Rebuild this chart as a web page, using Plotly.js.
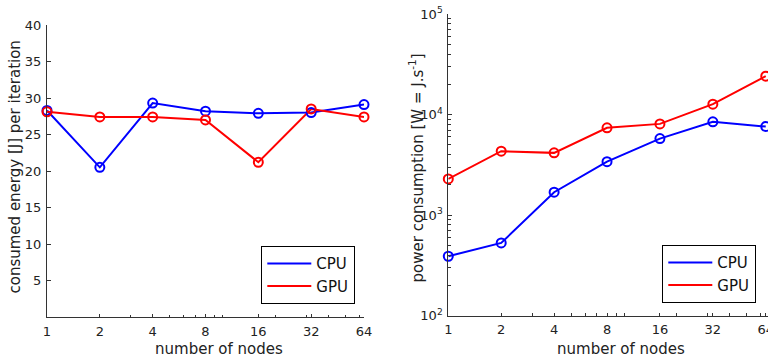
<!DOCTYPE html>
<html><head><meta charset="utf-8">
<script src="https://cdn.plot.ly/plotly-3.0.1.min.js"></script>
<style>html,body{margin:0;padding:0;background:#fff;}</style>
</head><body><div id="chart" style="width:768px;height:358px;"></div>
<script>
// ---- data ----
const nodes = [1, 2, 4, 8, 16, 32, 64];
const energyCPU = [28.3, 20.5, 29.3, 28.2, 27.9, 28.0, 29.1];
const energyGPU = [28.1, 27.4, 27.4, 27.0, 21.2, 28.5, 27.4];
const powerCPU = [390, 529, 1690, 3400, 5770, 8460, 7600];
const powerGPU = [2290, 4320, 4160, 7380, 8080, 12700, 24100];
const seriesNames = ['CPU', 'GPU'];
const xTickVals = [1, 2, 4, 8, 16, 32, 64];
const xTickText = ['1', '2', '4', '8', '16', '32', '64'];
const xMinorVals = [3, 5, 6, 7, 9, 10, 20, 30, 40, 50, 60];
const energyTickVals = [5, 10, 15, 20, 25, 30, 35, 40];
const powerTickVals = [100, 1000, 10000, 100000];
const powerTickText = ['10<sup>2</sup>', '10<sup>3</sup>', '10<sup>4</sup>', '10<sup>5</sup>'];
const powerMinorVals = [200,300,400,500,600,700,800,900,2000,3000,4000,5000,6000,7000,8000,9000,20000,30000,40000,50000,60000,70000,80000,90000];
const xTitle = 'number of nodes';
const energyTitle = 'consumed energy [J] per iteration';
const powerTitle = 'power consumption [W = J.s<sup>-1</sup>]';

const BLUE = '#0000ff', RED = '#ff0000';
const FONT = 'DejaVu Sans, sans-serif';
const AX = '#333333';

function lineTrace(y, name, color, xa, ya, leg) {
  return {x: nodes, y: y, name: name, mode: 'lines', type: 'scatter',
    line: {color: color, width: 2}, xaxis: xa, yaxis: ya, legend: leg, hoverinfo: 'skip'};
}
function markerTrace(y, color, xa, ya) {
  return {x: nodes, y: y, mode: 'markers', type: 'scatter', showlegend: false,
    marker: {symbol: 'circle-open', size: 9, color: color, line: {width: 2, color: color}},
    xaxis: xa, yaxis: ya, cliponaxis: false, hoverinfo: 'skip'};
}

const data = [
  lineTrace(energyCPU, seriesNames[0], BLUE, 'x', 'y', 'legend'),
  lineTrace(energyGPU, seriesNames[1], RED, 'x', 'y', 'legend'),
  markerTrace(energyCPU, BLUE, 'x', 'y'),
  markerTrace(energyGPU, RED, 'x', 'y'),
  lineTrace(powerCPU, seriesNames[0], BLUE, 'x2', 'y2', 'legend2'),
  lineTrace(powerGPU, seriesNames[1], RED, 'x2', 'y2', 'legend2'),
  markerTrace(powerCPU, BLUE, 'x2', 'y2'),
  markerTrace(powerGPU, RED, 'x2', 'y2')
];

const W = 768, H = 358;
const px = v => v / W, py = v => 1 - v / H;

const xCommon = {
  type: 'log', tickmode: 'array', tickvals: xTickVals, ticktext: xTickText,
  ticks: 'inside', ticklen: 3, tickwidth: 1, tickcolor: AX,
  minor: {tickmode: 'array', tickvals: xMinorVals, ticks: 'inside', ticklen: 2.5, tickwidth: 1, tickcolor: AX, showgrid: false},
  showline: true, linecolor: AX, linewidth: 1, showgrid: false, zeroline: false,
  tickfont: {family: FONT, size: 13, color: '#222'}, ticklabelstandoff: 2,
  ticklabeloverflow: 'allow', fixedrange: true
};

const legendCommon = {xanchor: 'left', yanchor: 'top',
  bgcolor: '#fff', bordercolor: '#000', borderwidth: 1.3, itemwidth: 44,
  font: {family: FONT, size: 15, color: '#111'}, tracegroupgap: 0};

const layout = {
  width: W, height: H,
  margin: {l: 0, r: 0, t: 0, b: 0},
  paper_bgcolor: '#fff', plot_bgcolor: '#fff',
  font: {family: FONT, size: 13, color: '#222'},
  xaxis: Object.assign({}, xCommon, {domain: [px(47), px(364)], range: [0, Math.log10(64)], anchor: 'y'}),
  yaxis: {domain: [1 - 317 / H, 1 - 25 / H], range: [0, 40], anchor: 'x',
    tickmode: 'array', tickvals: energyTickVals,
    ticks: 'inside', ticklen: 4, tickwidth: 1, tickcolor: AX,
    showline: true, linecolor: AX, linewidth: 1, showgrid: false, zeroline: false,
    tickfont: {family: FONT, size: 13, color: '#222'}, ticklabelstandoff: 2, fixedrange: true},
  xaxis2: Object.assign({}, xCommon, {domain: [px(448.3), 1], range: [0, 1.819], anchor: 'y2'}),
  yaxis2: {type: 'log', domain: [1 - 315.7 / H, 1 - 14 / H], range: [2, 5], anchor: 'x2',
    tickmode: 'array', tickvals: powerTickVals, ticktext: powerTickText,
    ticks: 'inside', ticklen: 4, tickwidth: 1, tickcolor: AX,
    minor: {tickmode: 'array', tickvals: powerMinorVals, ticks: 'inside', ticklen: 2.5, tickwidth: 1, tickcolor: AX, showgrid: false},
    showline: true, linecolor: AX, linewidth: 1, showgrid: false, zeroline: false,
    tickfont: {family: FONT, size: 13, color: '#222'}, ticklabelstandoff: 2, fixedrange: true},
  legend: Object.assign({}, legendCommon, {x: px(261), y: py(246)}),
  legend2: Object.assign({}, legendCommon, {x: px(662), y: py(245)}),
  annotations: [
    {text: energyTitle, xref: 'paper', yref: 'paper', x: px(14.5), y: py(167), textangle: -90,
     showarrow: false, xanchor: 'center', yanchor: 'middle', font: {family: FONT, size: 15, color: '#222'}},
    {text: xTitle, xref: 'paper', yref: 'paper', x: px(219), y: py(348.5),
     showarrow: false, xanchor: 'center', yanchor: 'middle', font: {family: FONT, size: 15, color: '#222'}},
    {text: powerTitle, xref: 'paper', yref: 'paper', x: px(416), y: py(168.5), textangle: -90,
     showarrow: false, xanchor: 'center', yanchor: 'middle', font: {family: FONT, size: 15, color: '#222'}},
    {text: xTitle, xref: 'paper', yref: 'paper', x: px(621), y: py(348.5),
     showarrow: false, xanchor: 'center', yanchor: 'middle', font: {family: FONT, size: 15, color: '#222'}}
  ]
};

Plotly.newPlot('chart', data, layout, {staticPlot: true, displayModeBar: false});
</script>
</body></html>
